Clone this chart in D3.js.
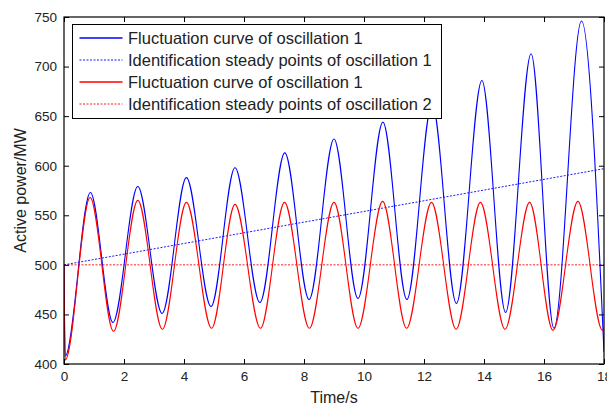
<!DOCTYPE html>
<html>
<head>
<meta charset="utf-8">
<script src="https://cdn.jsdelivr.net/npm/d3@7"></script>
<style>
  body { margin: 0; background: #fff; }
  text { font-family: Arial, "Liberation Sans", sans-serif; fill: #222; }
</style>
</head>
<body>
<div id="chart"></div>
<script>
// Data (time in s, power in MW)
var blueT = [0, 0.04, 0.88, 1.63, 2.46, 3.27, 4.08, 4.9, 5.7, 6.53, 7.36, 8.17, 9.0, 9.8, 10.63, 11.43, 12.27, 13.08, 13.93, 14.72, 15.57, 16.33, 17.25, 18];
var blueP = [500, 408, 573, 442, 579, 451, 588, 458, 598, 462, 613, 465, 627, 466, 644, 465, 663, 461, 686, 452, 713, 436, 746, 412];

var redT = [0, 0.04, 0.87, 1.65, 2.46, 3.28, 4.08, 4.92, 5.7, 6.55, 7.35, 8.18, 9.0, 9.8, 10.62, 11.42, 12.25, 13.07, 13.88, 14.7, 15.52, 16.3, 17.13, 17.95, 18];
var redP = [500, 404, 568, 433, 565, 435, 563, 436, 561, 436, 563, 436, 563, 436, 564, 436, 563, 435, 563, 435, 563, 434, 564, 434, 436];

var steadyT = [0, 18];
var blueSteadyP = [500, 597];
var redSteadyP = [500, 500];

var xTicks = [0, 2, 4, 6, 8, 10, 12, 14, 16, 18];
var yTicks = [400, 450, 500, 550, 600, 650, 700, 750];

var legendLabels = [
  "Fluctuation curve of oscillation 1",
  "Identification steady points of oscillation 1",
  "Fluctuation curve of oscillation 1",
  "Identification steady points of oscillation 2"
];

var svgWidth = 607;
var svgHeight = 405;
var margin = { top: 17, right: 3, bottom: 41, left: 64 };
var width = svgWidth - margin.left - margin.right;   // 540
var height = svgHeight - margin.top - margin.bottom;  // 347

var svg = d3.select("#chart")
  .append("svg")
  .attr("width", svgWidth)
  .attr("height", svgHeight);

var chartGroup = svg.append("g")
  .attr("transform", `translate(${margin.left}, ${margin.top})`);

var x = d3.scaleLinear().domain([0, 18]).range([0, width]);
var y = d3.scaleLinear().domain([400, 750]).range([height, 0]);

// clip for the curves
svg.append("defs").append("clipPath").attr("id", "plotclip")
  .append("rect").attr("x", 0).attr("y", 0).attr("width", width).attr("height", height);

var line = d3.line()
  .x(d => x(d[0]))
  .y(d => y(d[1]))
  .curve(d3.curveMonotoneX);

var straight = d3.line()
  .x(d => x(d[0]))
  .y(d => y(d[1]));

var plot = chartGroup.append("g").attr("clip-path", "url(#plotclip)");

// steady point lines
plot.append("path")
  .datum(steadyT.map((t, i) => [t, redSteadyP[i]]))
  .attr("d", straight)
  .attr("fill", "none")
  .attr("stroke", "#ff0000")
  .attr("stroke-width", 0.9)
  .attr("stroke-dasharray", "2,1.5");

plot.append("path")
  .datum(steadyT.map((t, i) => [t, blueSteadyP[i]]))
  .attr("d", straight)
  .attr("fill", "none")
  .attr("stroke", "#0000ff")
  .attr("stroke-width", 0.9)
  .attr("stroke-dasharray", "2,1.5");

// fluctuation curves
plot.append("path")
  .datum(blueT.map((t, i) => [t, blueP[i]]))
  .attr("d", line)
  .attr("fill", "none")
  .attr("stroke", "#0000ff")
  .attr("stroke-width", 1.1);

plot.append("path")
  .datum(redT.map((t, i) => [t, redP[i]]))
  .attr("d", line)
  .attr("fill", "none")
  .attr("stroke", "#ff0000")
  .attr("stroke-width", 1.1);

// Axes (MATLAB style: inward ticks on all four sides)
var bottomAxis = d3.axisBottom(x).tickValues(xTicks).tickSizeInner(-5).tickSizeOuter(0).tickPadding(7);
var leftAxis = d3.axisLeft(y).tickValues(yTicks).tickSizeInner(-5).tickSizeOuter(0).tickPadding(7);
var topAxis = d3.axisTop(x).tickValues(xTicks).tickSizeInner(-5).tickSizeOuter(0).tickFormat("");
var rightAxis = d3.axisRight(y).tickValues(yTicks).tickSizeInner(-5).tickSizeOuter(0).tickFormat("");

function styleAxis(g) {
  g.select(".domain").remove();
  g.selectAll(".tick line").attr("stroke", "#000");
  g.selectAll(".tick text")
    .style("font-size", "13.5px")
    .style("font-family", "Arial, 'Liberation Sans', sans-serif")
    .attr("fill", "#222");
}

chartGroup.append("g").attr("transform", `translate(0, ${height})`).call(bottomAxis).call(styleAxis);
chartGroup.append("g").call(leftAxis).call(styleAxis);
chartGroup.append("g").call(topAxis).call(styleAxis);
chartGroup.append("g").attr("transform", `translate(${width}, 0)`).call(rightAxis).call(styleAxis);

// frame
chartGroup.append("rect")
  .attr("x", 0).attr("y", 0)
  .attr("width", width).attr("height", height)
  .attr("fill", "none")
  .attr("stroke", "#000")
  .attr("stroke-width", 1.2);

// Legend
var legend = svg.append("g").attr("transform", "translate(72.5, 24.5)");
legend.append("rect")
  .attr("width", 369).attr("height", 94)
  .attr("fill", "#fff")
  .attr("stroke", "#000")
  .attr("stroke-width", 1);

var legendColors = ["#0000ff", "#0000ff", "#ff0000", "#ff0000"];
var legendDash = [null, "2,1.5", null, "2,1.5"];

legendLabels.forEach(function(label, i) {
  var ly = 13.5 + i * 22;
  legend.append("line")
    .attr("x1", 7).attr("x2", 50)
    .attr("y1", ly).attr("y2", ly)
    .attr("stroke", legendColors[i])
    .attr("stroke-width", legendDash[i] ? 0.9 : 1.3)
    .attr("stroke-dasharray", legendDash[i]);
  legend.append("text")
    .attr("x", 55.5)
    .attr("y", ly + 6)
    .style("font-size", "16.5px")
    .text(label);
});

// Axis labels
svg.append("text")
  .attr("transform", `translate(26, ${margin.top + height / 2}) rotate(-90)`)
  .style("text-anchor", "middle")
  .style("font-size", "16px")
  .text("Active power/MW");

svg.append("text")
  .attr("x", margin.left + width / 2)
  .attr("y", 403)
  .style("text-anchor", "middle")
  .style("font-size", "16px")
  .text("Time/s");
</script>
</body>
</html>
